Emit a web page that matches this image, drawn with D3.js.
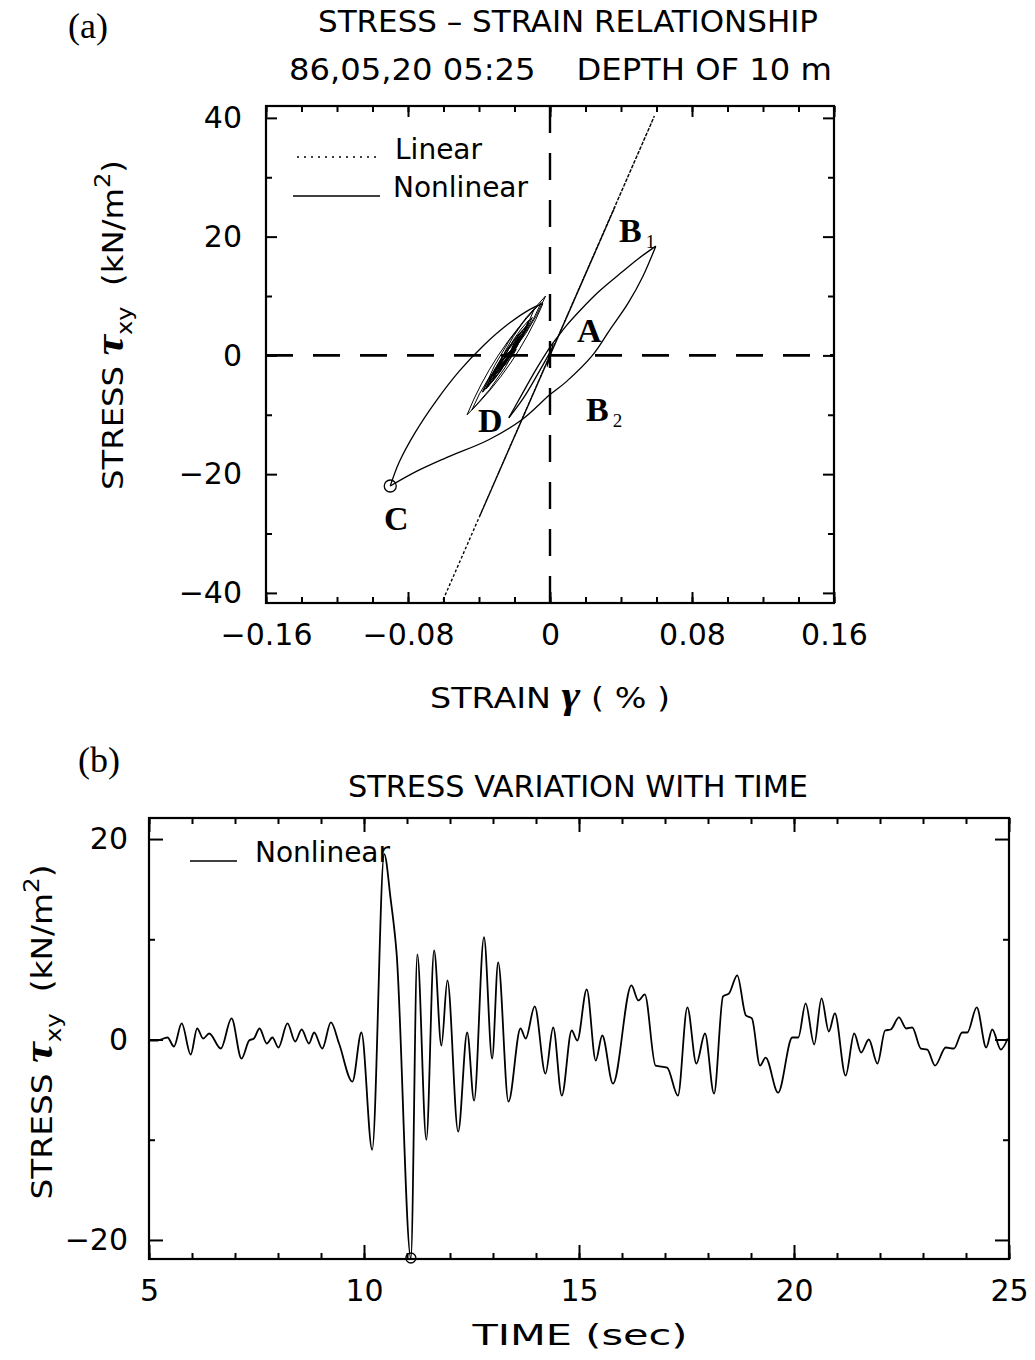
<!DOCTYPE html>
<html>
<head>
<meta charset="utf-8">
<script src="https://cdn.jsdelivr.net/npm/d3@7"></script>
<style>
  body { margin: 0; background: #fff; }
  text { fill: #000; }
  .ttl { font-family: "DejaVu Sans Condensed", "DejaVu Sans", sans-serif; font-size: 31px; }
  .lab { font-family: "DejaVu Sans", sans-serif; font-size: 28px; }
  .ser { font-family: "Liberation Serif", "DejaVu Serif", serif; }
</style>
</head>
<body>
<svg id="fig" width="1035" height="1360"></svg>
<script>
/* (a) stress–strain loops, (b) stress time history */

// --- (a) axis ticks
const A_X_MAJOR = [-0.16, -0.08, 0, 0.08, 0.16];
const A_X_MINOR = d3.range(-0.16, 0.1601, 0.02);
const A_Y_MAJOR = [-40, -20, 0, 20, 40];
const A_Y_MINOR = [-30, -10, 10, 30];

// --- (a) linear model: turning points along the elastic line [strain %, stress kN/m2]
const LIN_PEAKS = [[0, 0], [0.0366, 25.0], [-0.0395, -27.0], [0.0588, 40.3], [-0.0610, -41.7],
  [0.0250, 17.1], [-0.0300, -20.5], [0.0200, 13.7], [-0.0200, -13.7], [0.0120, 8.2], [-0.0120, -8.2], [0, 0]];

// --- (a) nonlinear model, branch by branch
const NL_PRE = [[0, 0], [0.0015, 1.6], [-0.0015, -1.5], [0.0018, 2.0], [-0.0016, -1.9], [0.0, 0.5]];
const NL_DIP = [[0.0, 0.5], [-0.007, -3.2], [-0.015, -7.2], [-0.0232, -10.5]];
const NL_RISE = [[-0.0232, -10.5], [-0.0155, -6.4], [-0.0075, -2.2], [0.0005, 1.6], [0.004, 3.0],
  [0.0089, 4.9], [0.018, 7.9], [0.0277, 10.8], [0.040, 13.9], [0.0503, 16.4], [0.0596, 18.4]];
const NL_B1_C = [[0.0596, 18.4], [0.0523, 13.3], [0.044, 8.8], [0.0337, 4.3], [0.0239, 0.0],
  [0.0089, -4.5], [0.0, -6.6], [-0.0157, -10.8], [-0.0345, -14.2], [-0.059, -17.3], [-0.075, -19.5], [-0.090, -22.0]];
const NL_C_UP = [[-0.090, -22.0], [-0.085, -18.0], [-0.076, -13.0], [-0.064, -7.6], [-0.051, -2.6],
  [-0.037, 1.8], [-0.023, 5.4], [-0.011, 7.8], [-0.004, 8.7]];
const NL_SMALL = [[-0.004, 8.7], [-0.0467, -10.0], [-0.0050, 8.9], [-0.0259, -0.6], [-0.0120, 5.9], [-0.0440, -9.2],
  [-0.0220, 0.7], [-0.0380, -6.1], [-0.0025, 10.0], [-0.0290, -1.9], [-0.0090, 7.7], [-0.0380, -6.2],
  [-0.0210, 1.1], [-0.0170, 3.3], [-0.0320, -3.4], [-0.0210, 1.2], [-0.0360, -5.6], [-0.0220, 0.9],
  [-0.0130, 5.0], [-0.0290, -2.1], [-0.0230, 0.4], [-0.0340, -4.4], [-0.0120, 5.4], [-0.0300, -2.8],
  [-0.0360, -5.6], [-0.0170, 3.2], [-0.0300, -2.4], [-0.0220, 0.6], [-0.0360, -5.4], [-0.0140, 4.6],
  [-0.0100, 6.4], [-0.0190, 2.1], [-0.0300, -2.6], [-0.0350, -5.3], [-0.0220, 0.2], [-0.0160, 3.6],
  [-0.0260, -0.5], [-0.0150, 4.1], [-0.0220, 0.8], [-0.0180, 2.6], [-0.0320, -3.6], [-0.0230, 0.6],
  [-0.0260, -1.3], [-0.0190, 1.0], [-0.0290, -2.6], [-0.0220, 0.0]];
const C_POINT = [-0.090, -22.0];

const A_NOTES = [
  { t: "B", sub: "1", x: 0.0389, y: 19.1 },
  { t: "A", sub: "", x: 0.0152, y: 2.3 },
  { t: "B", sub: "2", x: 0.0203, y: -11.0 },
  { t: "D", sub: "", x: -0.0406, y: -12.9 },
  { t: "C", sub: "", x: -0.0935, y: -29.4 }
];

// --- (b) axis ticks
const B_X_MAJOR = [5, 10, 15, 20, 25];
const B_X_MINOR = d3.range(5, 25.01, 1);
const B_Y_MAJOR = [-20, 0, 20];
const B_Y_MINOR = [-10, 10];

// --- (b) stress history [time s, stress kN/m2]
const TAU_T = [[5.00, -0.1], [5.19, -0.1], [5.43, 0.2], [5.58, -0.7], [5.76, 1.6], [5.97, -1.5], [6.12, 1.1],
  [6.26, 0.1], [6.40, 0.6], [6.67, -0.9], [6.92, 2.1], [7.15, -1.9], [7.33, -0.1], [7.44, 0.1], [7.57, 1.1],
  [7.74, -0.4], [7.87, 0.2], [8.01, -0.8], [8.22, 1.6], [8.40, -0.2], [8.55, 1.0], [8.72, -0.4], [8.84, 0.7],
  [9.03, -0.9], [9.23, 1.7], [9.42, -0.4], [9.73, -4.2], [9.94, 0.7], [10.19, -11.0], [10.47, 18.5],
  [10.62, 14.0], [10.76, 8.5], [11.09, -21.8], [11.24, 8.5], [11.45, -10.0], [11.63, 8.9], [11.80, -0.6],
  [11.94, 5.9], [12.19, -9.2], [12.40, 0.7], [12.56, -6.1], [12.79, 10.2], [12.98, -1.9], [13.12, 7.7],
  [13.36, -6.2], [13.64, 1.1], [13.76, 0.1], [13.97, 3.3], [14.22, -3.4], [14.40, 1.2], [14.60, -5.6],
  [14.83, 0.9], [14.96, -0.1], [15.18, 5.0], [15.39, -2.1], [15.54, 0.4], [15.79, -4.4], [16.22, 5.4],
  [16.38, 3.9], [16.53, 4.5], [16.78, -2.6], [17.05, -2.8], [17.30, -5.6], [17.52, 3.2], [17.73, -2.4],
  [17.93, 0.6], [18.14, -5.4], [18.35, 4.3], [18.49, 4.6], [18.68, 6.4], [18.88, 2.4], [19.02, 2.1],
  [19.21, -2.6], [19.34, -1.8], [19.63, -5.3], [19.96, 0.2], [20.10, 0.2], [20.27, 3.6], [20.47, -0.5],
  [20.64, 4.1], [20.81, 0.8], [20.95, 2.6], [21.20, -3.6], [21.40, 0.6], [21.56, -1.3], [21.74, 0.0],
  [21.94, -2.4], [22.12, 0.9], [22.25, 1.0], [22.44, 2.2], [22.61, 1.1], [22.75, 1.2], [22.95, -0.9],
  [23.10, -1.0], [23.28, -2.6], [23.53, -0.8], [23.72, -0.9], [23.91, 0.7], [24.03, 0.7], [24.25, 3.2],
  [24.47, -0.8], [24.61, 1.0], [24.81, -1.0], [24.97, 0.1]];
const MIN_POINT = [11.09, -21.8];

const svg = d3.select("#fig");
const minus = v => (v < 0 ? "\u2212" : "") + Math.abs(v);

const xA = d3.scaleLinear().domain([-0.16, 0.16]).range([266, 834]);
const yA = d3.scaleLinear().domain([-41.7, 42.0]).range([603, 106]);
const xB = d3.scaleLinear().domain([5, 25]).range([149, 1009]);
const yB = d3.scaleLinear().domain([-21.9, 22.1]).range([1259, 818]);

function styleAxis(a) {
  a.select(".domain").remove();
  a.selectAll("line").attr("stroke", "#000").attr("stroke-width", 2);
  a.selectAll("text").attr("font-family", "DejaVu Sans, sans-serif").attr("font-size", 30).attr("fill", "#000");
  return a;
}

function axes(g, x, y, o) {
  const [xl, xr] = x.range(), [yb, yt] = y.range();
  const put = (axis, tx, ty) => styleAxis(g.append("g").attr("transform", `translate(${tx},${ty})`).call(axis));
  put(d3.axisBottom(x).tickValues(o.xMinor).tickSize(-o.minor).tickFormat(""), 0, yb);
  put(d3.axisBottom(x).tickValues(o.xMajor).tickSize(-o.major).tickPadding(o.padX).tickFormat(o.fx), 0, yb);
  put(d3.axisTop(x).tickValues(o.xMinor).tickSize(-o.minor).tickFormat(""), 0, yt);
  put(d3.axisTop(x).tickValues(o.xMajor).tickSize(-o.major).tickFormat(""), 0, yt);
  put(d3.axisLeft(y).tickValues(o.yMinor).tickSize(-o.minor).tickFormat(""), xl, 0);
  put(d3.axisLeft(y).tickValues(o.yMajor).tickSize(-o.major).tickPadding(o.padY).tickFormat(minus), xl, 0);
  put(d3.axisRight(y).tickValues(o.yMinor).tickSize(-o.minor).tickFormat(""), xr, 0);
  put(d3.axisRight(y).tickValues(o.yMajor).tickSize(-o.major).tickFormat(""), xr, 0);
  g.append("rect").attr("x", xl).attr("y", yt).attr("width", xr - xl).attr("height", yb - yt)
    .attr("fill", "none").attr("stroke", "#000").attr("stroke-width", 2.2);
}

function yTitle(g, cx, cy, len) {
  const t = g.append("text").attr("class", "lab").attr("font-size", 32).attr("xml:space", "preserve")
    .attr("transform", `translate(${cx},${cy}) rotate(-90)`).attr("text-anchor", "middle")
    .attr("textLength", len).attr("lengthAdjust", "spacingAndGlyphs");
  t.append("tspan").text("STRESS ");
  t.append("tspan").attr("class", "ser").attr("font-style", "italic").attr("font-weight", "bold").attr("font-size", 40).text("\u03C4");
  t.append("tspan").attr("font-size", 21).attr("dy", 9).text("xy");
  t.append("tspan").attr("dy", -9).text("  (kN/m");
  t.append("tspan").attr("font-size", 21).attr("dy", -13).text("2");
  t.append("tspan").attr("dy", 13).text(")");
}

// hysteresis branches between turning points: bowed so that the loops open up
const BOW = 0.10;
function bowPath(pts) {
  const p = d3.path();
  pts.forEach((d, i) => {
    const x = xA(d[0]), y = yA(d[1]);
    if (i === 0) { p.moveTo(x, y); return; }
    const x0 = xA(pts[i - 1][0]), y0 = yA(pts[i - 1][1]);
    p.quadraticCurveTo((x0 + x) / 2 + (y - y0) * BOW, (y0 + y) / 2 - (x - x0) * BOW, x, y);
  });
  return p.toString();
}

/* ---------- (a) ---------- */
const ga = svg.append("g");
svg.append("defs").append("clipPath").attr("id", "clipA").append("rect")
  .attr("x", 266).attr("y", 106).attr("width", 568).attr("height", 497);

ga.append("text").attr("class", "ser").attr("x", 68).attr("y", 38).attr("font-size", 36).text("(a)");
ga.append("text").attr("class", "ttl").attr("x", 318).attr("y", 32).attr("textLength", 500)
  .attr("lengthAdjust", "spacingAndGlyphs").text("STRESS \u2013 STRAIN RELATIONSHIP");
ga.append("text").attr("class", "ttl").attr("x", 289).attr("y", 80).attr("textLength", 543)
  .attr("lengthAdjust", "spacingAndGlyphs").attr("xml:space", "preserve").text("86,05,20 05:25    DEPTH OF 10 m");

axes(ga, xA, yA, { xMajor: A_X_MAJOR, xMinor: A_X_MINOR, yMajor: A_Y_MAJOR, yMinor: A_Y_MINOR,
  major: 11, minor: 6, padX: 21, padY: 24, fx: v => v === 0 ? "0" : minus(+v.toFixed(2)).replace(/^(\u2212?)(\d)\.(\d)$/, "$1$2.$30") });

// zero reference lines
ga.append("line").attr("x1", xA.range()[0]).attr("x2", xA.range()[1]).attr("y1", yA(0)).attr("y2", yA(0))
  .attr("stroke", "#000").attr("stroke-width", 2.6).attr("stroke-dasharray", "27,20");
ga.append("line").attr("x1", xA(0)).attr("x2", xA(0)).attr("y1", yA.range()[1]).attr("y2", yA.range()[0])
  .attr("stroke", "#000").attr("stroke-width", 2.4).attr("stroke-dasharray", "27,20");

const lineA = d3.line().x(d => xA(d[0])).y(d => yA(d[1]));
const plotA = ga.append("g").attr("clip-path", "url(#clipA)");

plotA.append("path").attr("d", lineA(LIN_PEAKS)).attr("fill", "none").attr("stroke", "#000")
  .attr("stroke-width", 1.4).attr("stroke-dasharray", "2,3");

const smooth = d3.line().x(d => xA(d[0])).y(d => yA(d[1])).curve(d3.curveCatmullRom);
[NL_PRE, NL_DIP, NL_RISE, NL_B1_C, NL_C_UP].forEach(b =>
  plotA.append("path").attr("d", smooth(b)).attr("fill", "none").attr("stroke", "#000").attr("stroke-width", 1.3));
plotA.append("path").attr("d", bowPath(NL_SMALL))
  .attr("fill", "none").attr("stroke", "#000").attr("stroke-width", 1.0);
plotA.append("circle").attr("cx", xA(C_POINT[0])).attr("cy", yA(C_POINT[1])).attr("r", 6)
  .attr("fill", "none").attr("stroke", "#000").attr("stroke-width", 1.3);

// legend
ga.append("line").attr("x1", 297).attr("x2", 378).attr("y1", 157).attr("y2", 157)
  .attr("stroke", "#000").attr("stroke-width", 1.4).attr("stroke-dasharray", "2,5");
ga.append("text").attr("class", "lab").attr("x", 395).attr("y", 159).text("Linear");
ga.append("line").attr("x1", 293).attr("x2", 380).attr("y1", 196).attr("y2", 196)
  .attr("stroke", "#000").attr("stroke-width", 1.5);
ga.append("text").attr("class", "lab").attr("x", 393).attr("y", 197).text("Nonlinear");

// point labels
A_NOTES.forEach(n => {
  const t = ga.append("text").attr("class", "ser").attr("font-size", 34).attr("font-weight", "bold")
    .attr("x", xA(n.x)).attr("y", yA(n.y)).text(n.t);
  if (n.sub) t.append("tspan").attr("font-size", 19).attr("font-weight", "normal").attr("dx", 4).attr("dy", 6).text(n.sub);
});

ga.append("text").attr("class", "lab").attr("font-size", 31).attr("x", xA(0)).attr("y", 708)
  .attr("text-anchor", "middle").attr("xml:space", "preserve").attr("textLength", 240).attr("lengthAdjust", "spacingAndGlyphs")
  .call(t => {
    t.append("tspan").text("STRAIN ");
    t.append("tspan").attr("class", "ser").attr("font-style", "italic").attr("font-weight", "bold").attr("font-size", 38).text("\u03B3");
    t.append("tspan").text(" ( % )");
  });
yTitle(ga, 123, 325, 330);

/* ---------- (b) ---------- */
const gb = svg.append("g");
gb.append("text").attr("class", "ser").attr("x", 78).attr("y", 772).attr("font-size", 36).text("(b)");
gb.append("text").attr("class", "ttl").attr("x", 348).attr("y", 797).attr("textLength", 460)
  .attr("lengthAdjust", "spacingAndGlyphs").text("STRESS VARIATION WITH TIME");

axes(gb, xB, yB, { xMajor: B_X_MAJOR, xMinor: B_X_MINOR, yMajor: B_Y_MAJOR, yMinor: B_Y_MINOR,
  major: 14, minor: 6, padX: 21, padY: 21, fx: d3.format("d") });

const lineB = d3.line().x(d => xB(d[0])).y(d => yB(d[1])).curve(d3.curveMonotoneX);
gb.append("path").attr("d", lineB(TAU_T)).attr("fill", "none").attr("stroke", "#000").attr("stroke-width", 1.8);
gb.append("circle").attr("cx", xB(MIN_POINT[0])).attr("cy", yB(MIN_POINT[1])).attr("r", 5)
  .attr("fill", "none").attr("stroke", "#000").attr("stroke-width", 1.3);

gb.append("line").attr("x1", 190).attr("x2", 237).attr("y1", 861).attr("y2", 861)
  .attr("stroke", "#000").attr("stroke-width", 1.4);
gb.append("text").attr("class", "lab").attr("x", 255).attr("y", 862).attr("font-size", 29).text("Nonlinear");

gb.append("text").attr("class", "lab").attr("font-size", 31).attr("x", 580).attr("y", 1345)
  .attr("text-anchor", "middle").attr("textLength", 215).attr("lengthAdjust", "spacingAndGlyphs").text("TIME (sec)");
yTitle(gb, 52, 1032, 335);
</script>
</body>
</html>
